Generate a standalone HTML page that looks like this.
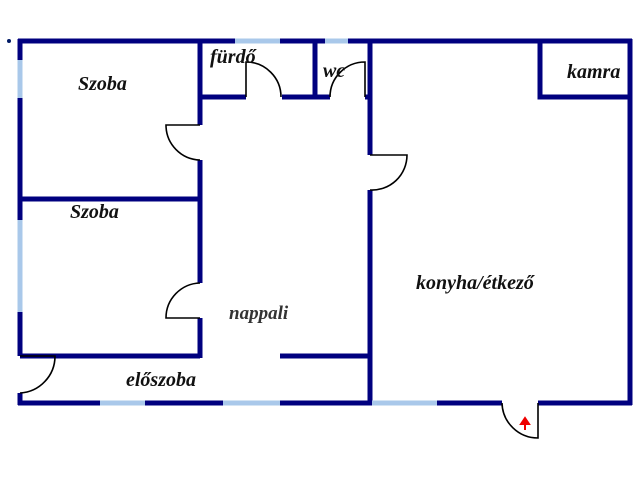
<!DOCTYPE html>
<html><head><style>body{margin:0;background:#fff}svg{display:block}text{font-family:"Liberation Serif",serif;font-style:italic;font-weight:bold;font-size:20px;fill:#111}</style></head><body>
<svg width="640" height="480" viewBox="0 0 640 480">
<circle cx="9" cy="41" r="2" fill="#001a66"/>
<g stroke="#00007f" stroke-width="5" fill="none">
<path d="M18 41H235M280 41H325M348 41H632"/>
<path d="M20 39V60M20 98V220M20 312V356M20 393V405"/>
<path d="M630 39V405"/>
<path d="M18 403H100M145 403H223M280 403H372M437 403H502M538 403H632"/>
<path d="M200 41V125M200 160V283M200 318V358"/>
<path d="M20 199H200M20 356H200M280 356H370"/>
<path d="M370 41V155M370 190V403"/>
<path d="M200 97H246M282 97H315M315 41V97M315 97H330M365 97H370"/>
<path d="M540 41V97H630"/>
</g>
<g stroke="#a9c8ea" stroke-width="5">
<path d="M235 41H280M325 41H348M20 60V98M20 220V312M100 403H145M223 403H280M372 403H437"/>
</g>
<g stroke="#000" stroke-width="1.6" fill="none">
<path d="M246 97V62A35 35 0 0 1 281 97"/>
<path d="M365 97V62A35 35 0 0 0 330 97"/>
<path d="M200 125H166A35 35 0 0 0 200 160"/>
<path d="M200 318H166A35 35 0 0 1 200 283"/>
<path d="M370 155H407A35 35 0 0 1 370 190"/>
<path d="M20 356H55A37 37 0 0 1 20 393"/>
<path d="M538 403V438A36 36 0 0 1 502 403"/>
</g>
<path d="M525 430V422M521 424L525 418L529 424Z" stroke="#e00" stroke-width="2" fill="#e00"/>
<text x="78" y="90">Szoba</text>
<text x="70" y="218">Szoba</text>
<text x="210" y="63">fürdő</text>
<text x="323" y="77">wc</text>
<text x="567" y="78">kamra</text>
<text x="416" y="289">konyha/étkező</text>
<text x="229" y="319" style="fill:#333;font-size:19px">nappali</text>
<text x="126" y="386">előszoba</text>
</svg>
</body></html>
